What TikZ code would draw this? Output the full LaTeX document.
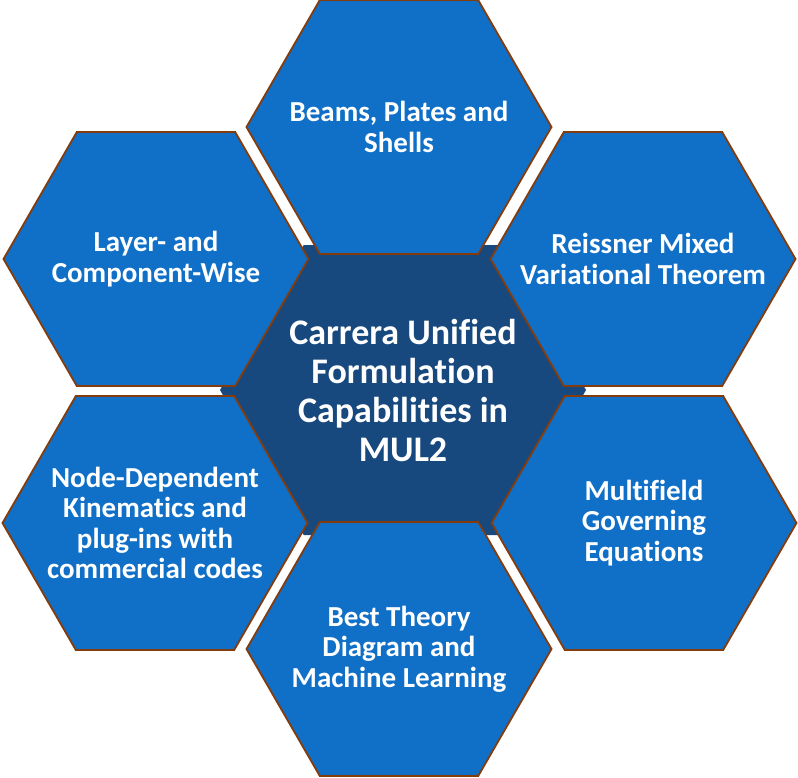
\documentclass[tikz,border=0pt]{standalone}
\usepackage{fontspec}
\setmainfont{Carlito}[Ligatures=NoCommon]
\usepackage{tikz}
\usetikzlibrary{
  shapes.symbols,
  positioning
}
\definecolor{hexblue}{RGB}{16,111,198}
\definecolor{hexnavy}{RGB}{23,72,126}
\definecolor{hexbrown}{RGB}{132,60,12}

\begin{document}
\begin{tikzpicture}[x=1pt, y=-1pt,
            hexbase/.style={signal, signal to=west and east, signal pointer angle=120, inner xsep=-70pt, inner ysep=0pt, text=white, align=center},
            outerhex/.style={hexbase, draw=hexbrown, line width=1.8pt, fill=hexblue, minimum width=305pt, minimum height=254pt, font=\bfseries\fontsize{29}{30.5}\selectfont},
            corehex/.style={hexbase, fill=hexnavy, minimum width=366pt, minimum height=290pt, font=\bfseries\fontsize{36}{39}\selectfont}]
            \useasboundingbox (0,0) rectangle (798,777);
            \node [corehex] (core) at (403,390) {Carrera Unified\\Formulation\\Capabilities in\\MUL2};
            \node [outerhex] (beams) at (399,127) {Beams, Plates and\\Shells};
            \node [outerhex] (layer) at (156,259) {Layer- and\\Component-Wise};
            \node [outerhex] (rmvt) at (643,259) {Reissner Mixed\\Variational Theorem};
            \node [outerhex] (nodedep) at (155,523) {Node-Dependent\\Kinematics and\\plug-ins with\\commercial codes};
            \node [outerhex] (multifield) at (644,523) {Multifield\\Governing\\Equations};
            \node [outerhex] (besttheory) at (399,649) {Best Theory\\Diagram and\\Machine Learning};
        \end{tikzpicture}
\end{document}
